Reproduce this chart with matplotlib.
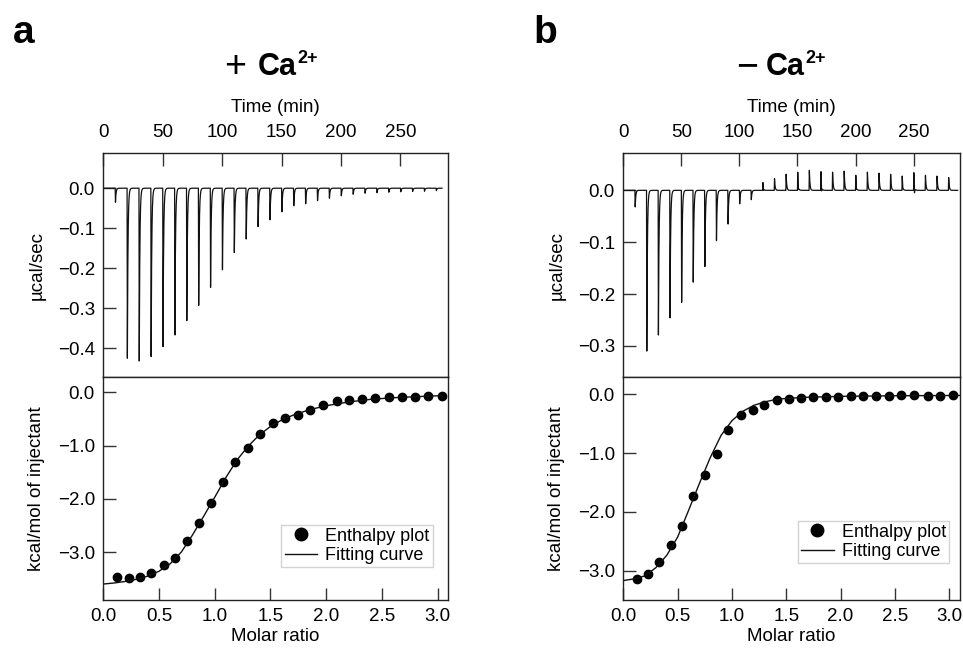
import numpy as np
import matplotlib.pyplot as plt
from matplotlib.ticker import FuncFormatter, MultipleLocator

plt.rcParams['font.family'] = ['Liberation Sans', 'DejaVu Sans']
plt.rcParams['axes.unicode_minus'] = True

# ---- raw thermograms (injection every 10 min, peak height in ucal/sec) ----
inj_time = [10, 20, 30, 40, 50, 60, 70, 80, 90, 100, 110, 120, 130, 140,
            150, 160, 170, 180, 190, 200, 210, 220, 230, 240, 250, 260, 270, 280]
peaks_a = [-0.035, -0.425, -0.432, -0.421, -0.396, -0.367, -0.331, -0.293,
           -0.248, -0.204, -0.161, -0.127, -0.096, -0.079, -0.059, -0.044,
           -0.039, -0.031, -0.025, -0.019, -0.015, -0.0125, -0.011, -0.010,
           -0.009, -0.008, -0.0075, -0.006]
peaks_b = [-0.032, -0.310, -0.279, -0.246, -0.216, -0.177, -0.147, -0.097,
           -0.065, -0.026, -0.018, 0.015, 0.0225, 0.031, 0.035, 0.0385,
           0.036, 0.035, 0.037, 0.029, 0.035, 0.033, 0.031, 0.0275,
           0.034, 0.029, 0.0275, 0.0245]
# small negative dips that follow some of the positive peaks in b
dips_b = [0, 0, 0, 0, 0, 0, 0, 0, 0, 0, 0, -0.005, 0, 0,
          -0.010, 0, -0.013, 0, 0, -0.008, 0, 0, 0, -0.006,
          -0.016, 0, 0, 0]

# ---- integrated heats (kcal/mol of injectant) ----
ratio_a = [0.126, 0.228, 0.329, 0.431, 0.542, 0.647, 0.754, 0.859, 0.970,
           1.077, 1.185, 1.299, 1.410, 1.520, 1.634, 1.748, 1.858, 1.975,
           2.095, 2.206, 2.325, 2.442, 2.562, 2.678, 2.798, 2.918, 3.037]
heat_a = [-3.471, -3.490, -3.459, -3.390, -3.246, -3.103, -2.784, -2.458,
          -2.083, -1.677, -1.308, -1.045, -0.782, -0.582, -0.482, -0.420,
          -0.326, -0.244, -0.169, -0.151, -0.119, -0.101, -0.094, -0.088,
          -0.088, -0.069, -0.063]
fit_x_a = [0.0, 0.1, 0.2, 0.3, 0.4, 0.5, 0.6, 0.7, 0.8, 0.9, 1.0, 1.1, 1.2,
           1.3, 1.4, 1.5, 1.6, 1.7, 1.8, 1.9, 2.0, 2.2, 2.4, 2.6, 2.8, 3.04]
fit_y_a = [-3.60, -3.58, -3.55, -3.51, -3.45, -3.36, -3.22, -3.00, -2.68,
           -2.33, -1.97, -1.60, -1.27, -1.01, -0.80, -0.64, -0.52, -0.43,
           -0.36, -0.30, -0.25, -0.18, -0.13, -0.10, -0.08, -0.06]

ratio_b = [0.122, 0.223, 0.328, 0.435, 0.537, 0.644, 0.751, 0.859, 0.966,
           1.080, 1.190, 1.298, 1.411, 1.522, 1.632, 1.749, 1.863, 1.979,
           2.093, 2.209, 2.326, 2.443, 2.556, 2.679, 2.802, 2.918, 3.038]
heat_b = [-3.141, -3.062, -2.858, -2.563, -2.245, -1.730, -1.367, -1.015,
          -0.607, -0.352, -0.261, -0.176, -0.103, -0.074, -0.063, -0.052,
          -0.052, -0.040, -0.035, -0.029, -0.023, -0.023, -0.018, -0.018,
          -0.023, -0.023, -0.018]
fit_x_b = [0.0, 0.1, 0.2, 0.3, 0.4, 0.5, 0.6, 0.7, 0.8, 0.9, 1.0, 1.1, 1.2,
           1.3, 1.4, 1.5, 1.7, 2.0, 2.5, 3.1]
fit_y_b = [-3.17, -3.14, -3.09, -2.95, -2.74, -2.43, -1.98, -1.52, -1.08,
           -0.70, -0.45, -0.29, -0.19, -0.13, -0.09, -0.07, -0.05, -0.035,
           -0.025, -0.02]

FS = 13.5


def thermogram(t_end, heights, dips=None):
    # baseline plus a sharp spike with fast exponential return per injection
    t = np.sort(np.concatenate([np.arange(0, t_end, 0.04),
                                np.array(inj_time) + 0.25]))
    y = np.zeros_like(t)
    for i, (ti, h) in enumerate(zip(inj_time, heights)):
        dt = t - ti
        y += np.where((dt >= 0) & (dt < 0.25), h * dt / 0.25, 0)
        y += np.where(dt >= 0.25, h * np.exp(-(dt - 0.25) / 0.5), 0)
        if dips is not None and dips[i] != 0:
            dd = dt - 0.6
            y += np.where((dd >= 0) & (dd < 0.2), dips[i] * dd / 0.2, 0)
            y += np.where(dd >= 0.2, dips[i] * np.exp(-(dd - 0.2) / 0.3), 0)
    return t, y


def fmt(v, pos):
    return f'{v:.1f}'.replace('-', '\u2212')


def style(ax, width_px):
    for s in ax.spines.values():
        s.set_linewidth(1.0)
        s.set_color('#222222')
    ax.yaxis.set_major_formatter(FuncFormatter(fmt))
    ax.tick_params(axis='y', direction='in', length=9, width=1, left=True,
                   right=False, labelsize=FS, pad=6, color='#333333')
    # y label sits left of the tick labels
    ax.yaxis.set_label_coords(-58.0 / width_px, 0.5)


fig = plt.figure(figsize=(9.63, 6.49), dpi=100)
W, H = 963.0, 649.0

panels = [
    dict(left=103.3, right=448.0, tr=(285, peaks_a, None), tlim=(-0.472, 0.088),
         tticks=[0.0, -0.1, -0.2, -0.3, -0.4], blim=(-3.9, 0.29), bxmax=3.094,
         rx=ratio_a, hy=heat_a, fx=fit_x_a, fy=fit_y_a, leg=(0.956, 0.147),
         letter='a', sign='+', sign_x=235, ca_x=258),
    dict(left=623.3, right=960.0, tr=(288, peaks_b, dips_b), tlim=(-0.36, 0.072),
         tticks=[0.0, -0.1, -0.2, -0.3], blim=(-3.5, 0.294), bxmax=3.10,
         rx=ratio_b, hy=heat_b, fx=fit_x_b, fy=fit_y_b, leg=(0.968, 0.165),
         letter='b', sign='\u2212', sign_x=747, ca_x=766),
]

for p in panels:
    x0 = p['left'] / W
    wpx = p['right'] - p['left']
    w = wpx / W
    ax_top = fig.add_axes([x0, (H - 377) / H, w, 224 / H])
    ax_bot = fig.add_axes([x0, (H - 600) / H, w, 223 / H])

    # raw heat trace
    t, y = thermogram(p['tr'][0], p['tr'][1], p['tr'][2])
    ax_top.plot(t, y, color='#111111', lw=0.9)
    ax_top.set_xlim(0, 290)
    ax_top.set_ylim(*p['tlim'])
    ax_top.set_yticks(p['tticks'])
    ax_top.xaxis.set_major_locator(MultipleLocator(50))
    ax_top.xaxis.set_label_position('top')
    ax_top.tick_params(axis='x', direction='in', length=9, width=1, top=True,
                       bottom=False, labeltop=True, labelbottom=False,
                       labelsize=FS, pad=8.5, color='#333333')
    ax_top.set_xlabel('Time (min)', fontsize=FS, labelpad=9)
    ax_top.set_ylabel('\u00b5cal/sec', fontsize=FS)
    style(ax_top, wpx)

    # integrated heats with fit
    ax_bot.plot(p['rx'], p['hy'], 'o', color='black', ms=6,
                label='Enthalpy plot')
    ax_bot.plot(p['fx'], p['fy'], '-', color='#111111', lw=1.0,
                label='Fitting curve')
    ax_bot.set_xlim(0, p['bxmax'])
    ax_bot.set_ylim(*p['blim'])
    ax_bot.set_yticks([0.0, -1.0, -2.0, -3.0])
    ax_bot.xaxis.set_major_locator(MultipleLocator(0.5))
    ax_bot.xaxis.set_major_formatter(FuncFormatter(fmt))
    ax_bot.tick_params(axis='x', direction='in', length=9, width=1, top=False,
                       bottom=True, labelsize=FS, pad=6, color='#333333')
    ax_bot.set_xlabel('Molar ratio', fontsize=FS, labelpad=2)
    ax_bot.set_ylabel('kcal/mol of injectant', fontsize=FS)
    style(ax_bot, wpx)
    leg = ax_bot.legend(loc='lower right', bbox_to_anchor=p['leg'],
                        borderaxespad=0, fontsize=13, fancybox=False,
                        frameon=True, edgecolor='#c8c8c8', borderpad=0.18,
                        handletextpad=0.45, labelspacing=0.12,
                        handlelength=1.8, markerscale=1.5)
    leg.get_frame().set_linewidth(1.0)

    # panel heading: "+ Ca2+" / "- Ca2+"
    fig.text(p['sign_x'] / W, 1 - 77 / H, p['sign'], fontsize=27,
             ha='center', va='baseline')
    ca = fig.text(p['ca_x'] / W, 1 - 75 / H, 'Ca', fontsize=22,
                  fontweight='bold', ha='left', va='baseline')
    ax_top.annotate('2+', xy=(1, 0), xycoords=ca, xytext=(0.3, 13.5),
                    textcoords='offset points', fontsize=13,
                    fontweight='bold', ha='left', va='baseline',
                    annotation_clip=False)
    fig.text((p['left'] - 90) / W, 1 - 43 / H, p['letter'], fontsize=28,
             fontweight='bold', ha='left', va='baseline')

fig.savefig('out.png', dpi=100)
